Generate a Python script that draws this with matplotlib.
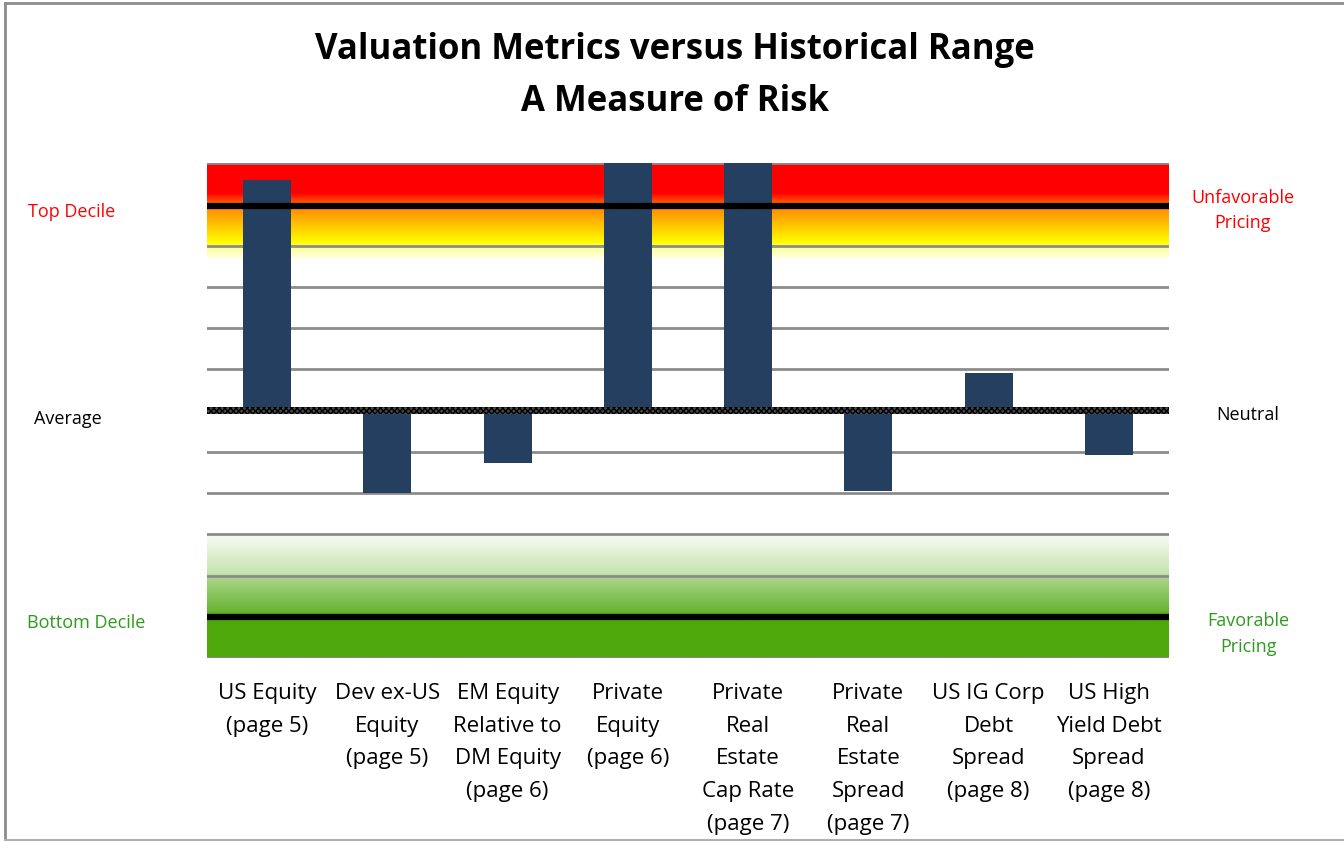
import numpy as np
import matplotlib
matplotlib.use("Agg")
import matplotlib.pyplot as plt
from matplotlib.colors import to_rgb
from matplotlib.patches import Rectangle
from matplotlib.lines import Line2D

plt.rcParams['font.family'] = ['Open Sans', 'DejaVu Sans']

categories = ["US Equity\n(page 5)", "Dev ex-US\nEquity\n(page 5)",
              "EM Equity\nRelative to\nDM Equity\n(page 6)", "Private\nEquity\n(page 6)",
              "Private\nReal\nEstate\nCap Rate\n(page 7)", "Private\nReal\nEstate\nSpread\n(page 7)",
              "US IG Corp\nDebt\nSpread\n(page 8)", "US High\nYield Debt\nSpread\n(page 8)"]
values = [5.58, -2.0, -1.28, 6.0, 6.0, -1.94, 0.9, -1.09]

ymin, ymax = -6, 6
top_decile, bottom_decile = 5, -5

fig = plt.figure(figsize=(13.44, 8.41), dpi=100)
ax = fig.add_axes([207/1344, 1-658/841, (1169-207)/1344, (658-163)/841])
ax.set_xlim(-0.5, len(values) - 0.5)
ax.set_ylim(ymin, ymax)

# gradient bands (value -> colour)
def band(stops, y0, y1):
    ys = np.linspace(y0, y1, 400)
    sv = [s[0] for s in stops]
    cols = np.array([to_rgb(s[1]) for s in stops])
    img = np.stack([np.interp(ys, sv, cols[:, i]) for i in range(3)], axis=-1)
    img = img[::-1][:, None, :]
    ax.imshow(img, extent=(-0.5, len(values) - 0.5, y0, y1), aspect='auto',
              zorder=0, interpolation='bilinear')

red_stops = [(3.62, '#ffffff'), (3.95, '#ffff90'), (4.05, '#ffff00'),
             (4.9, '#ff8a00'), (5.25, '#ff0000'), (6.0, '#ff0000')]
green_stops = [(-6.0, '#4ea80c'), (-5.0, '#4ea80c'), (-4.85, '#6ab536'),
               (-4.05, '#aad58a'), (-3.95, '#c6e3b0'), (-3.0, '#f8fcf5')]
band(red_stops, 3.62, 6.0)
band(green_stops, -6.0, -3.0)

for y in range(ymin, ymax + 1):
    ax.axhline(y, color='#8c8c8c', lw=2, zorder=1)

x = np.arange(len(values))
ax.bar(x, values, width=0.4, color='#243f60', zorder=2)

# decile lines and neutral line drawn over bars
ax.axhline(top_decile - 0.05, color='black', lw=4.5, zorder=3)
ax.axhline(bottom_decile, color='black', lw=4.5, zorder=3)
ax.add_patch(Rectangle((-0.5, -0.09), len(values), 0.18, facecolor='#4a4a4a',
                       edgecolor='black', hatch='xxxxxx', lw=0, zorder=3))

ax.set_yticks([])
ax.set_xticks(x)
ax.set_xticklabels(categories, fontsize=16, linespacing=1.73, va='top')
ax.tick_params(axis='x', length=0, pad=18)
for s in ax.spines.values():
    s.set_visible(False)

fig.text(675/1344, 1-50/841, "Valuation Metrics versus Historical Range",
         fontsize=25, fontweight='bold', ha='center', va='center')
fig.text(675/1344, 1-102/841, "A Measure of Risk",
         fontsize=25, fontweight='bold', ha='center', va='center')

fig.text(72/1344, 1-212/841, "Top Decile", color='#ff0000', fontsize=13, ha='center', va='center')
fig.text(68/1344, 1-419/841, "Average", color='black', fontsize=13, ha='center', va='center')
fig.text(86/1344, 1-623/841, "Bottom Decile", color='#2e9a1e', fontsize=13, ha='center', va='center')
fig.text(1243/1344, 1-211/841, "Unfavorable\nPricing", color='#ff0000', fontsize=13,
         ha='center', va='center', linespacing=1.5)
fig.text(1248/1344, 1-415/841, "Neutral", color='black', fontsize=13, ha='center', va='center')
fig.text(1248/1344, 1-634/841, "Favorable\nPricing", color='#2e9a1e', fontsize=13,
         ha='center', va='center', linespacing=1.5)

# outer frame: left, top, bottom
fx0, fy_top, fy_bot = 5/1344, 1-3/841, 1-840/841
fig.add_artist(Line2D([fx0, fx0], [fy_bot, fy_top], transform=fig.transFigure, color='#8c8c8c', lw=2))
fig.add_artist(Line2D([fx0, 1], [fy_top, fy_top], transform=fig.transFigure, color='#8c8c8c', lw=2))
fig.add_artist(Line2D([fx0, 1], [fy_bot, fy_bot], transform=fig.transFigure, color='#b0b0b0', lw=1.5))

fig.savefig("out.png", dpi=100)
